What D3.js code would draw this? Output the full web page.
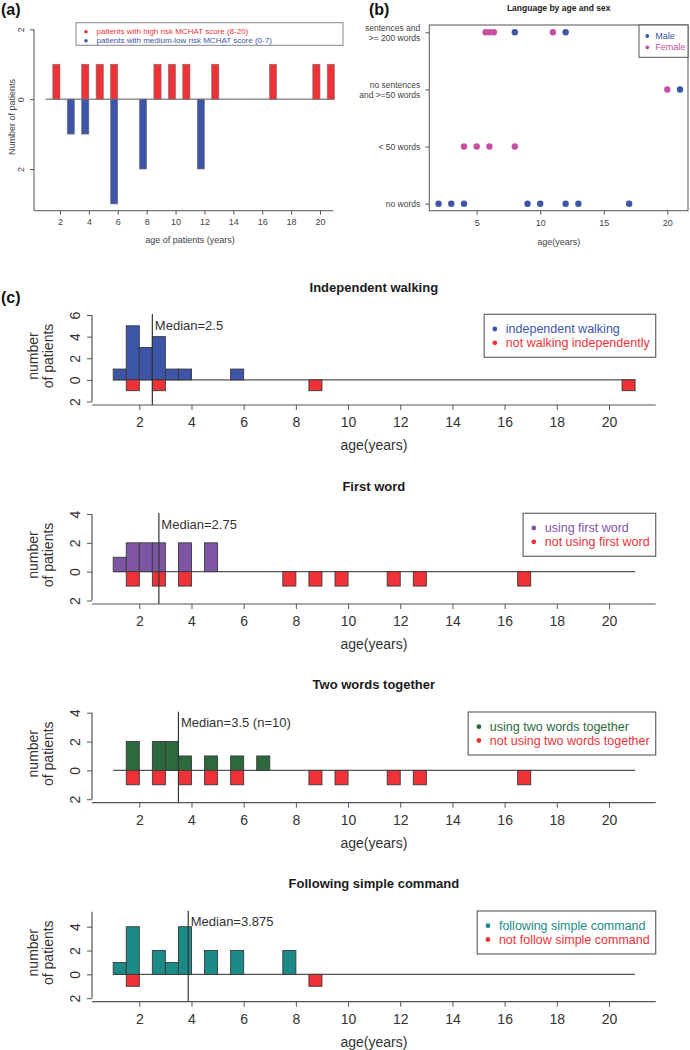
<!DOCTYPE html>
<html>
<head>
<meta charset="utf-8">
<script src="https://cdn.jsdelivr.net/npm/d3@7"></script>
<style>
body { margin: 0; background: #fff; }
svg { font-family: "Liberation Sans", Arial, Helvetica, sans-serif; }
</style>
</head>
<body>
<svg id="fig" width="690" height="1050"></svg>
<script>
// ---------- data ----------
const binWidth = 0.5;

// (a) patients per half-year bin: [bin start, count]
const highRiskBins = [[1.5,1],[3.5,1],[4.5,1],[5.5,1],[8.5,1],[9.5,1],[10.5,1],[12.5,1],[16.5,1],[19.5,1],[20.5,1]];
const lowRiskBins = [[2.5,1],[3.5,1],[5.5,3],[7.5,2],[11.5,2]];
const ageTicksA = [2,4,6,8,10,12,14,16,18,20];
const countTicksA = [-2,0,2];
const legendA = ["patients with high risk MCHAT score (8-20)", "patients with medium-low risk MCHAT score (0-7)"];

// (b) language level (index into languageLabels) by age
const languageLabels = [["no words"], ["< 50 words"], ["no sentences", "and >=50 words"], ["sentences and", ">= 200 words"]];
const maleLanguage = [[2,0],[3,0],[4,0],[9,0],[10,0],[12,0],[13,0],[17,0],[21,2],[8,3],[12,3]];
const femaleLanguage = [[4,1],[5,1],[6,1],[8,1],[20,2],[5.7,3],[6,3],[6.35,3],[11,3]];
const ageTicksB = [5,10,15,20];
const legendB = ["Male", "Female"];

// (c) milestones, half-year bins: [bin start, count]
const walkYes = [[1,1],[1.5,5],[2,3],[2.5,4],[3,1],[3.5,1],[5.5,1]];
const walkNo = [[1.5,1],[2.5,1],[8.5,1],[20.5,1]];
const firstYes = [[1,1],[1.5,2],[2,2],[2.5,2],[3.5,2],[4.5,2]];
const firstNo = [[1.5,1],[2.5,1],[3.5,1],[7.5,1],[8.5,1],[9.5,1],[11.5,1],[12.5,1],[16.5,1]];
const twoYes = [[1.5,2],[2.5,2],[3,2],[3.5,1],[4.5,1],[5.5,1],[6.5,1]];
const twoNo = [[1.5,1],[2.5,1],[3.5,1],[4.5,1],[5.5,1],[8.5,1],[9.5,1],[11.5,1],[12.5,1],[16.5,1]];
const cmdYes = [[1,1],[1.5,4],[2.5,2],[3,1],[3.5,4],[4.5,2],[5.5,2],[7.5,2]];
const cmdNo = [[1.5,1],[8.5,1]];

const milestoneTitles = ["Independent walking", "First word", "Two words together", "Following simple command"];
const medians = [2.5, 2.75, 3.5, 3.875];
const medianLabels = ["Median=2.5", "Median=2.75", "Median=3.5 (n=10)", "Median=3.875"];
const yesLabels = ["independent walking", "using first word", "using two words together", "following simple command"];
const noLabels = ["not walking independently", "not using first word", "not using two words together", "not follow simple command"];
const countMax = [6, 4, 4, 5.26];
const countTicksC = [[-2,0,2,4,6], [-2,0,2,4], [-2,0,2,4], [-2,0,2,4]];
const ageTicksC = [2,4,6,8,10,12,14,16,18,20];
const ageSpan = [1, 21];

// ---------- style ----------
const red = "#ee3238", blue = "#3d55a7", magenta = "#c64fa4";
const yesColors = [blue, "#7e55a5", "#2c6a3e", "#1c8a87"];
const edge = "#3a3a3a", grey = "#444", axisCol = "#555";

const svg = d3.select("#fig");

// d3 axes put font attrs on the group; drop them so the page font is used
function styleAxis(g) {
    g.attr("font-family", null).attr("font-size", null);
    g.select(".domain").remove();
    g.selectAll(".tick line").attr("stroke", axisCol);
    g.selectAll(".tick text").attr("fill", grey);
}

// ================= (a) =================
const xA = d3.scaleLinear().domain([2, 20]).range([60, 320]);
const yA = d3.scaleLinear().domain([-2, 2]).range([169, 29.3]);
const gA = svg.append("g");
const baseA = 210.7;

gA.append("text").attr("x", 1).attr("y", 15).attr("font-size", 16).attr("font-weight", "bold")
    .attr("fill", "#111").text("(a)");

gA.append("path")
    .attr("d", `M34,${yA(2)}V${baseA}H333.3`)
    .attr("fill", "none").attr("stroke", axisCol);

gA.append("line")
    .attr("x1", xA(1)).attr("x2", xA(21)).attr("y1", yA(0)).attr("y2", yA(0))
    .attr("stroke", axisCol);

gA.selectAll("rect.hi").data(highRiskBins).enter().append("rect")
    .attr("x", d => xA(d[0])).attr("width", d => xA(d[0] + binWidth) - xA(d[0]))
    .attr("y", d => yA(d[1])).attr("height", d => yA(0) - yA(d[1]))
    .attr("fill", red).attr("stroke", "#777").attr("stroke-width", 0.6);

gA.selectAll("rect.lo").data(lowRiskBins).enter().append("rect")
    .attr("x", d => xA(d[0])).attr("width", d => xA(d[0] + binWidth) - xA(d[0]))
    .attr("y", yA(0)).attr("height", d => yA(-d[1]) - yA(0))
    .attr("fill", blue).attr("stroke", "#777").attr("stroke-width", 0.6);

gA.append("g").attr("transform", `translate(0,${baseA})`)
    .call(d3.axisBottom(xA).tickValues(ageTicksA).tickSize(4).tickPadding(4))
    .call(styleAxis)
    .selectAll("text").attr("font-size", 9);

gA.append("g").attr("transform", "translate(34,0)")
    .call(d3.axisLeft(yA).tickValues(countTicksA).tickSize(4).tickFormat(d => Math.abs(d)))
    .call(styleAxis)
    .selectAll("text")
    .attr("transform", "rotate(-90)").attr("x", 0).attr("y", -13).attr("dy", null)
    .attr("dominant-baseline", "central").attr("text-anchor", "middle")
    .attr("font-size", 9);

gA.append("text").attr("x", 190).attr("y", 243).attr("text-anchor", "middle")
    .attr("font-size", 9).attr("fill", grey).text("age of patients (years)");
gA.append("text").attr("transform", "translate(12,117) rotate(-90)")
    .attr("text-anchor", "middle").attr("dominant-baseline", "central")
    .attr("font-size", 9).attr("fill", grey).text("Number of patients");

const legA = gA.append("g");
legA.append("rect").attr("x", 76).attr("y", 22.7).attr("width", 267).attr("height", 22.6)
    .attr("fill", "#fff").attr("stroke", "#888");
[red, blue].forEach((c, i) => {
    legA.append("circle").attr("cx", 86).attr("cy", 31.7 + i * 9).attr("r", 1.8).attr("fill", c);
    legA.append("text").attr("x", 96.5).attr("y", 31.7 + i * 9).attr("dominant-baseline", "central")
        .attr("font-size", 8).attr("fill", c).text(legendA[i]);
});

// ================= (b) =================
const xB = d3.scaleLinear().domain([5, 20]).range([476.7, 667.3]);
const yB = d3.scalePoint().domain(d3.range(languageLabels.length)).range([203.7, 32.3]);
const gB = svg.append("g");
const boxB = { x0: 429.3, x1: 688, y0: 25, y1: 210.7 };

gB.append("text").attr("x", 369).attr("y", 15).attr("font-size", 16).attr("font-weight", "bold")
    .attr("fill", "#111").text("(b)");
gB.append("text").attr("x", (boxB.x0 + boxB.x1) / 2).attr("y", 10.5).attr("text-anchor", "middle")
    .attr("font-size", 8.5).attr("font-weight", "bold").attr("fill", "#222").text("Language by age and sex");

gB.append("rect").attr("x", boxB.x0).attr("y", boxB.y0)
    .attr("width", boxB.x1 - boxB.x0).attr("height", boxB.y1 - boxB.y0)
    .attr("fill", "none").attr("stroke", axisCol);

gB.append("g").attr("transform", `translate(0,${boxB.y1})`)
    .call(d3.axisBottom(xB).tickValues(ageTicksB).tickSize(4).tickPadding(5))
    .call(styleAxis)
    .selectAll("text").attr("font-size", 9);

const yAxisB = gB.append("g").attr("transform", `translate(${boxB.x0},0)`)
    .call(d3.axisLeft(yB).tickSize(4).tickFormat(""))
    .call(styleAxis);
yAxisB.selectAll(".tick text").each(function(d) {
    const lines = languageLabels[d];
    const t = d3.select(this).attr("x", -9).attr("dy", null).attr("font-size", 8.5);
    lines.forEach((s, k) => {
        t.append("tspan").attr("x", -9)
            .attr("y", (k - (lines.length - 1) / 2) * 10.5)
            .attr("dominant-baseline", "central").text(s);
    });
});

gB.append("text").attr("x", (boxB.x0 + boxB.x1) / 2).attr("y", 245).attr("text-anchor", "middle")
    .attr("font-size", 9).attr("fill", grey).text("age(years)");

gB.selectAll("circle.m").data(maleLanguage).enter().append("circle")
    .attr("cx", d => xB(d[0])).attr("cy", d => yB(d[1])).attr("r", 3.2).attr("fill", blue);
gB.selectAll("circle.f").data(femaleLanguage).enter().append("circle")
    .attr("cx", d => xB(d[0])).attr("cy", d => yB(d[1])).attr("r", 3.2).attr("fill", magenta);

const legB = gB.append("g");
legB.append("rect").attr("x", 639).attr("y", boxB.y0).attr("width", boxB.x1 - 639).attr("height", 32.3)
    .attr("fill", "#fff").attr("stroke", axisCol);
[blue, magenta].forEach((c, i) => {
    legB.append("circle").attr("cx", 647.3).attr("cy", 36 + i * 11.3).attr("r", 1.9).attr("fill", c);
    legB.append("text").attr("x", 655.3).attr("y", 36 + i * 11.3).attr("dominant-baseline", "central")
        .attr("font-size", 9).attr("fill", c).text(legendB[i]);
});

// ================= (c) =================
svg.append("text").attr("x", 1).attr("y", 303).attr("font-size", 16).attr("font-weight", "bold")
    .attr("fill", "#111").text("(c)");

const xC = d3.scaleLinear().domain([2, 20]).range([139.3, 609]);
const axisLeftX = 92, axisRightX = 655.7;
const panelBase = [405, 604, 802.7, 1001.7];
const yesData = [walkYes, firstYes, twoYes, cmdYes];
const noData = [walkNo, firstNo, twoNo, cmdNo];

function milestonePanel(i) {
    const base = panelBase[i];
    const y = d3.scaleLinear().domain([-2, countMax[i]]).range([base - 3.5, base - 90]);
    const g = svg.append("g");
    const mid = (axisLeftX + axisRightX) / 2;

    g.append("text").attr("x", mid).attr("y", base - 118).attr("text-anchor", "middle")
        .attr("dominant-baseline", "central").attr("font-size", 13).attr("font-weight", "bold")
        .attr("fill", "#1a1a1a").text(milestoneTitles[i]);

    // zero line
    g.append("line").attr("x1", xC(ageSpan[0])).attr("x2", xC(ageSpan[1]))
        .attr("y1", y(0)).attr("y2", y(0)).attr("stroke", axisCol).attr("stroke-width", 1.2);

    g.selectAll("rect.yes").data(yesData[i]).enter().append("rect")
        .attr("x", d => xC(d[0])).attr("width", d => xC(d[0] + binWidth) - xC(d[0]))
        .attr("y", d => y(d[1])).attr("height", d => y(0) - y(d[1]))
        .attr("fill", yesColors[i]).attr("stroke", edge).attr("stroke-width", 0.9);

    g.selectAll("rect.no").data(noData[i]).enter().append("rect")
        .attr("x", d => xC(d[0])).attr("width", d => xC(d[0] + binWidth) - xC(d[0]))
        .attr("y", y(0)).attr("height", d => y(-d[1]) - y(0))
        .attr("fill", red).attr("stroke", edge).attr("stroke-width", 0.9);

    // median
    g.append("line").attr("x1", xC(medians[i])).attr("x2", xC(medians[i]))
        .attr("y1", base - 91).attr("y2", base).attr("stroke", "#333").attr("stroke-width", 1.2);
    g.append("text").attr("x", xC(medians[i]) + 2.5).attr("y", base - 80)
        .attr("dominant-baseline", "central").attr("font-size", 13).attr("fill", "#333")
        .text(medianLabels[i]);

    // axes
    g.append("line").attr("x1", axisLeftX).attr("x2", axisRightX).attr("y1", base).attr("y2", base)
        .attr("stroke", axisCol).attr("stroke-width", 1.2);
    g.append("line").attr("x1", axisLeftX).attr("x2", axisLeftX)
        .attr("y1", y(countMax[i])).attr("y2", y(-2)).attr("stroke", axisCol).attr("stroke-width", 1.2);

    g.append("g").attr("transform", `translate(0,${base})`)
        .call(d3.axisBottom(xC).tickValues(ageTicksC).tickSize(5))
        .call(styleAxis)
        .selectAll("text").attr("y", 17).attr("dy", null).attr("dominant-baseline", "central")
        .attr("font-size", 14).attr("fill", "#333");

    g.append("g").attr("transform", `translate(${axisLeftX},0)`)
        .call(d3.axisLeft(y).tickValues(countTicksC[i]).tickSize(5).tickFormat(d => Math.abs(d)))
        .call(styleAxis)
        .selectAll("text")
        .attr("transform", "rotate(-90)").attr("x", 0).attr("y", -17).attr("dy", null)
        .attr("dominant-baseline", "central").attr("text-anchor", "middle")
        .attr("font-size", 14).attr("fill", "#333");

    g.append("text").attr("x", mid).attr("y", base + 40).attr("text-anchor", "middle")
        .attr("dominant-baseline", "central").attr("font-size", 14).attr("fill", "#333").text("age(years)");

    ["number", "of patients"].forEach((s, k) => {
        g.append("text").attr("transform", `translate(${33 + k * 15},${base - 49}) rotate(-90)`)
            .attr("text-anchor", "middle").attr("dominant-baseline", "central")
            .attr("font-size", 14).attr("fill", "#333").text(s);
    });

    // legend
    const top = base - 90.7;
    const leg = g.append("g");
    const box = leg.append("rect").attr("y", top).attr("height", 43)
        .attr("fill", "#fff").attr("stroke", "#666").attr("stroke-width", 1.2);
    const items = [[yesColors[i], yesLabels[i]], [red, noLabels[i]]];
    const texts = items.map((it, k) => leg.append("text")
        .attr("y", top + 14.7 + k * 13.8).attr("dominant-baseline", "central")
        .attr("font-size", 12.5).attr("fill", it[0]).text(it[1]));
    const w = d3.max(texts, t => t.node().getComputedTextLength());
    const left = axisRightX - (w + 21.7 + 6);
    box.attr("x", left).attr("width", axisRightX - left);
    texts.forEach(t => t.attr("x", left + 21.7));
    items.forEach((it, k) => leg.append("circle").attr("cx", left + 10.7)
        .attr("cy", top + 14.7 + k * 13.8).attr("r", 2.4).attr("fill", it[0]));
}

milestoneTitles.forEach((t, i) => milestonePanel(i));
</script>
</body>
</html>
